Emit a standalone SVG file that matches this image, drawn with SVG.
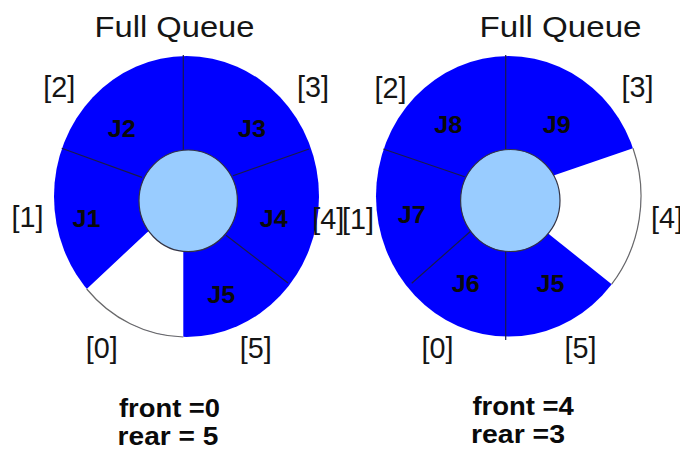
<svg xmlns="http://www.w3.org/2000/svg" width="680" height="454" viewBox="0 0 680 454">
  <style>
    .title { font-family: "Liberation Sans", Arial, sans-serif; font-size: 30px; fill: #151515; }
    .idx { font-family: "Liberation Sans", Arial, sans-serif; font-size: 30px; fill: #151515; text-anchor: middle; }
    .job { font-family: "Liberation Sans", Arial, sans-serif; font-size: 23px; font-weight: bold; fill: #0a0a0a; text-anchor: middle; }
    .state { font-family: "Liberation Sans", Arial, sans-serif; font-size: 25px; font-weight: bold; fill: #0a0a0a; }
    .ring { fill: #0000ff; }
    .free { fill: #ffffff; }
    .rim { fill: none; stroke: #6a6a6a; stroke-width: 1.2; }
    .div { stroke: #1a1a4a; stroke-width: 1.2; }
    .hub { fill: #99ccff; stroke: #333344; stroke-width: 1.2; }
  </style>
  <rect width="680" height="454" fill="#ffffff"/>

  <!-- Left queue: front = 0, rear = 5 -->
  <g id="title-left">
    <text class="title" x="94.5" y="36.7" textLength="160" lengthAdjust="spacingAndGlyphs">Full Queue</text>
  </g>
  <g id="queue-left">
    <ellipse class="ring" cx="186.5" cy="196.5" rx="132.5" ry="140.5"/>
    <path class="free" d="M188 201 L146.7 232.7 L86.7 289 A132.5 140.5 0 0 0 183.3 337 L183.3 252 Z"/>
    <path class="rim" d="M86.7 289 A132.5 140.5 0 0 0 183.3 337"/>
    <g id="dividers-left">
      <line class="div" x1="183.3" y1="55" x2="183.3" y2="152"/>
      <line class="div" x1="61.7" y1="148.3" x2="142" y2="177.4"/>
      <line class="div" x1="309" y1="149" x2="233" y2="175.7"/>
      <line class="div" x1="226" y1="235.2" x2="288" y2="283"/>
    </g>
    <ellipse class="hub" cx="188.2" cy="200.8" rx="49.2" ry="50.8"/>
    <text class="job" x="121.7" y="137.3" textLength="28" lengthAdjust="spacingAndGlyphs">J2</text>
    <text class="job" x="252" y="137.3" textLength="28" lengthAdjust="spacingAndGlyphs">J3</text>
    <text class="job" x="86.5" y="226.7" textLength="28" lengthAdjust="spacingAndGlyphs">J1</text>
    <text class="job" x="273.8" y="226.7" textLength="28" lengthAdjust="spacingAndGlyphs">J4</text>
    <text class="job" x="221.3" y="303.3" textLength="28" lengthAdjust="spacingAndGlyphs">J5</text>
    <text class="idx" x="59.2" y="97.3" textLength="32" lengthAdjust="spacingAndGlyphs">[2]</text>
    <text class="idx" x="313" y="97.3" textLength="32" lengthAdjust="spacingAndGlyphs">[3]</text>
    <text class="idx" x="27.5" y="226.7" textLength="32" lengthAdjust="spacingAndGlyphs">[1]</text>
    <text class="idx" x="328.3" y="228.5" textLength="32" lengthAdjust="spacingAndGlyphs">[4]</text>
    <text class="idx" x="101.7" y="358.3" textLength="32" lengthAdjust="spacingAndGlyphs">[0]</text>
    <text class="idx" x="255.8" y="358.3" textLength="32" lengthAdjust="spacingAndGlyphs">[5]</text>
  </g>
  <g id="state-left">
    <text class="state" x="119" y="416.5" textLength="101" lengthAdjust="spacingAndGlyphs">front =0</text>
    <text class="state" x="117.6" y="445" textLength="100.7" lengthAdjust="spacingAndGlyphs">rear = 5</text>
  </g>

  <!-- Right queue: front = 4, rear = 3 -->
  <g id="title-right">
    <text class="title" x="479.5" y="36.7" textLength="162" lengthAdjust="spacingAndGlyphs">Full Queue</text>
  </g>
  <g id="queue-right">
    <ellipse class="ring" cx="508.5" cy="196.3" rx="132.5" ry="140.3"/>
    <path class="free" d="M510.3 200.5 L555 175 L633 148.2 A132.5 140.3 0 0 1 611.7 284.2 L550 235 Z"/>
    <path class="rim" d="M633 148.2 A132.5 140.3 0 0 1 611.7 284.2"/>
    <g id="dividers-right">
      <line class="div" x1="505.7" y1="55" x2="505.7" y2="151"/>
      <line class="div" x1="505.7" y1="250" x2="505.7" y2="340"/>
      <line class="div" x1="383.3" y1="149" x2="464.7" y2="176.7"/>
      <line class="div" x1="470.3" y1="231.5" x2="411.7" y2="283.3"/>
    </g>
    <ellipse class="hub" cx="510.3" cy="200.5" rx="49.7" ry="51"/>
    <text class="job" x="448.3" y="132.7" textLength="28" lengthAdjust="spacingAndGlyphs">J8</text>
    <text class="job" x="556.7" y="132.7" textLength="28" lengthAdjust="spacingAndGlyphs">J9</text>
    <text class="job" x="411.7" y="223.3" textLength="28" lengthAdjust="spacingAndGlyphs">J7</text>
    <text class="job" x="465.8" y="292.3" textLength="28" lengthAdjust="spacingAndGlyphs">J6</text>
    <text class="job" x="550.5" y="292.3" textLength="28" lengthAdjust="spacingAndGlyphs">J5</text>
    <text class="idx" x="390.5" y="97.8" textLength="32" lengthAdjust="spacingAndGlyphs">[2]</text>
    <text class="idx" x="637.5" y="97.3" textLength="32" lengthAdjust="spacingAndGlyphs">[3]</text>
    <text class="idx" x="358" y="228.5" textLength="32" lengthAdjust="spacingAndGlyphs">[1]</text>
    <text class="idx" x="667" y="227.7" textLength="32" lengthAdjust="spacingAndGlyphs">[4]</text>
    <text class="idx" x="437.5" y="358.3" textLength="32" lengthAdjust="spacingAndGlyphs">[0]</text>
    <text class="idx" x="580.5" y="358.3" textLength="32" lengthAdjust="spacingAndGlyphs">[5]</text>
  </g>
  <g id="state-right">
    <text class="state" x="472.4" y="415" textLength="101.5" lengthAdjust="spacingAndGlyphs">front =4</text>
    <text class="state" x="471" y="443.3" textLength="94" lengthAdjust="spacingAndGlyphs">rear =3</text>
  </g>
</svg>
